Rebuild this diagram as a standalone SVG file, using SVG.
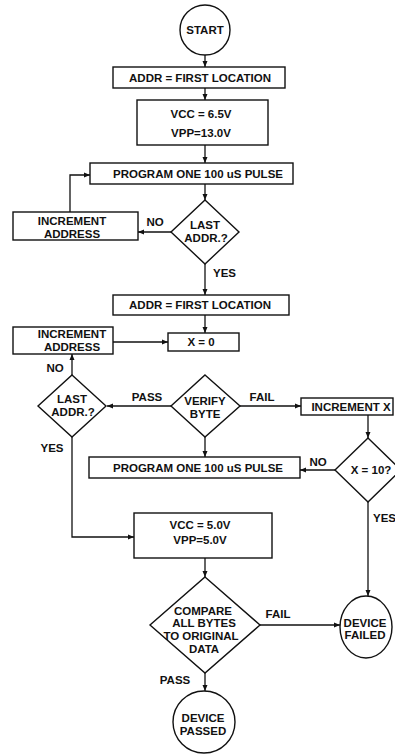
<svg xmlns="http://www.w3.org/2000/svg" width="395" height="754" viewBox="0 0 395 754">
<style>
.s{fill:#fff;stroke:#111;stroke-width:1.4}
.c{fill:none;stroke:#111;stroke-width:1.3}
text{font-family:"Liberation Sans",Arial,sans-serif;font-weight:bold;font-size:11.5px;fill:#111;text-anchor:middle}
.l{text-anchor:start}
</style>
<defs>
<marker id="a" markerUnits="userSpaceOnUse" markerWidth="7" markerHeight="6" refX="6" refY="3" orient="auto">
<path d="M0,0.5 L6,3 L0,5.5 Z" fill="#111"/>
</marker>
</defs>
<rect width="395" height="754" fill="#fff"/>
<g id="connectors" class="c" marker-end="url(#a)">
<path d="M205,55 V67"/>
<path d="M205,88 V100"/>
<path d="M205,145 V163"/>
<path d="M205,184 V200"/>
<path d="M171,232 H138"/>
<path d="M70,212 V175 H90"/>
<path d="M205,264 V295"/>
<path d="M205,315 V333"/>
<path d="M113,342 H168"/>
<path d="M72,375 V354"/>
<path d="M171,406 H107"/>
<path d="M240,406 H301"/>
<path d="M205,437 V457"/>
<path d="M368,415 V438"/>
<path d="M335,470 H300"/>
<path d="M72,437 V537 H134"/>
<path d="M368,502 V596"/>
<path d="M205,558 V577"/>
<path d="M260,625 H340"/>
<path d="M205,673 V691"/>
</g>
<g id="labels">
<text x="155" y="226">NO</text>
<text class="l" x="213" y="277">YES</text>
<text x="55" y="372">NO</text>
<text x="147" y="401">PASS</text>
<text x="262" y="401">FAIL</text>
<text x="52" y="452">YES</text>
<text x="318" y="466">NO</text>
<text class="l" x="373" y="522">YES</text>
<text x="278" y="618">FAIL</text>
<text x="175" y="684">PASS</text>
</g>
<g id="start"><circle class="s" cx="205" cy="30" r="25"/><text x="205" y="34">START</text></g>
<g id="addr1"><rect class="s" x="113" y="67" width="172" height="21"/><text x="200" y="82">ADDR = FIRST LOCATION</text></g>
<g id="vcc1"><rect class="s" x="137" y="100" width="131" height="45"/><text x="201" y="118">VCC = 6.5V</text><text x="201" y="137">VPP=13.0V</text></g>
<g id="prog1"><rect class="s" x="90" y="163" width="203" height="21"/><text x="198" y="178">PROGRAM ONE 100 uS PULSE</text></g>
<g id="last1"><polygon class="s" points="205,200 239,232 205,264 171,232"/><text x="205" y="229">LAST</text><text x="206" y="242">ADDR.?</text></g>
<g id="inc1"><rect class="s" x="13" y="212" width="125" height="28"/><text x="72" y="225">INCREMENT</text><text x="72" y="238">ADDRESS</text></g>
<g id="addr2"><rect class="s" x="113" y="295" width="176" height="20"/><text x="200" y="309">ADDR = FIRST LOCATION</text></g>
<g id="x0"><rect class="s" x="168" y="333" width="71" height="18"/><text x="201" y="346">X = 0</text></g>
<g id="inc2"><rect class="s" x="13" y="327" width="100" height="27"/><text x="72" y="338">INCREMENT</text><text x="72" y="351">ADDRESS</text></g>
<g id="last2"><polygon class="s" points="72,375 106,406 72,437 38,406"/><text x="72" y="403">LAST</text><text x="73" y="416">ADDR.?</text></g>
<g id="verify"><polygon class="s" points="205,375 240,406 205,437 171,406"/><text x="205" y="405">VERIFY</text><text x="205" y="418">BYTE</text></g>
<g id="incx"><rect class="s" x="301" y="398" width="92" height="17"/><text x="351" y="411">INCREMENT X</text></g>
<g id="prog2"><rect class="s" x="89" y="457" width="211" height="21"/><text x="198" y="472">PROGRAM ONE 100 uS PULSE</text></g>
<g id="x10"><polygon class="s" points="368,438 401,470 368,502 335,470"/><text x="371" y="474">X = 10?</text></g>
<g id="vcc2"><rect class="s" x="134" y="513" width="138" height="45"/><text x="200" y="529">VCC = 5.0V</text><text x="200" y="544">VPP=5.0V</text></g>
<g id="compare"><polygon class="s" points="205,577 260,625 205,673 150,625"/><text x="203" y="615">COMPARE</text><text x="204" y="627">ALL BYTES</text><text x="201" y="640">TO ORIGINAL</text><text x="204" y="653">DATA</text></g>
<g id="failed"><ellipse class="s" cx="366" cy="627" rx="26" ry="31"/><text x="365" y="627">DEVICE</text><text x="365" y="639">FAILED</text></g>
<g id="passed"><circle class="s" cx="204" cy="722" r="31"/><text x="203" y="722">DEVICE</text><text x="203" y="735">PASSED</text></g>
</svg>
